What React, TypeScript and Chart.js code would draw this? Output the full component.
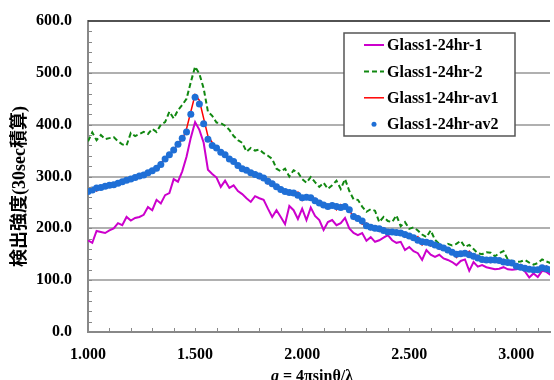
import React, { useEffect, useRef } from 'react';
import { Chart, registerables } from 'chart.js';

Chart.register(...registerables);

// q values (x axis)
const Q = [
  1.00, 1.02, 1.04, 1.06, 1.08, 1.10, 1.12, 1.14, 1.16, 1.18,
  1.20, 1.22, 1.24, 1.26, 1.28, 1.30, 1.32, 1.34, 1.36, 1.38,
  1.40, 1.42, 1.44, 1.46, 1.48, 1.50, 1.52, 1.54, 1.56, 1.58,
  1.60, 1.62, 1.64, 1.66, 1.68, 1.70, 1.72, 1.74, 1.76, 1.78,
  1.80, 1.82, 1.84, 1.86, 1.88, 1.90, 1.92, 1.94, 1.96, 1.98,
  2.00, 2.02, 2.04, 2.06, 2.08, 2.10, 2.12, 2.14, 2.16, 2.18,
  2.20, 2.22, 2.24, 2.26, 2.28, 2.30, 2.32, 2.34, 2.36, 2.38,
  2.40, 2.42, 2.44, 2.46, 2.48, 2.50, 2.52, 2.54, 2.56, 2.58,
  2.60, 2.62, 2.64, 2.66, 2.68, 2.70, 2.72, 2.74, 2.76, 2.78,
  2.80, 2.82, 2.84, 2.86, 2.88, 2.90, 2.92, 2.94, 2.96, 2.98,
  3.00, 3.02, 3.04, 3.06, 3.08, 3.10, 3.12, 3.14, 3.16,
];

const GLASS1_24HR_1 = [
  177, 172, 195, 193, 191, 196, 200, 210, 206, 222,
  215, 220, 222, 226, 241, 235, 255, 248, 264, 268,
  295, 290, 310, 338, 375, 405, 390, 365, 313, 305,
  298, 280, 292, 278, 283, 272, 266, 258, 251, 262,
  258, 255, 238, 222, 235, 222, 208, 243, 235, 218,
  238, 216, 240, 224, 216, 197, 212, 216, 206, 210,
  220, 200, 191, 187, 191, 176, 183, 174, 177, 182,
  187, 177, 172, 174, 158, 164, 156, 152, 139, 158,
  149, 145, 149, 142, 139, 135, 129, 137, 140, 118,
  135, 126, 129, 125, 123, 121, 122, 125, 121, 120,
  121, 123, 117, 105, 113, 106, 118, 116, 110,
];

const GLASS1_24HR_2 = [
  368, 385, 370, 380, 372, 374, 376, 368, 362, 360,
  384, 378, 382, 386, 382, 392, 386, 400, 405, 425,
  412, 428, 438, 450, 482, 512, 498, 470, 425, 417,
  404, 403, 398, 390, 378, 370, 365, 348, 355, 350,
  352, 345, 340, 334, 315, 310, 315, 300, 312, 308,
  295, 288, 299, 289, 280, 288, 276, 283, 292, 276,
  295, 272, 256, 255, 242, 232, 237, 234, 212, 222,
  214, 212, 225, 204, 212, 199, 202, 196, 188, 183,
  196, 178, 170, 164, 170, 167, 170, 176, 164, 168,
  160, 152, 150, 154, 153, 146, 152, 156, 140, 137,
  135, 136, 139, 134, 130, 133, 140, 136, 133,
];

const GLASS1_24HR_AV1 = [
  266, 278, 272, 281, 278, 286, 282, 289, 287, 296,
  292, 300, 298, 306, 304, 314, 312, 327, 332, 345,
  348, 366, 370, 392, 425, 458, 447, 412, 378, 366,
  352, 350, 338, 338, 326, 324, 312, 316, 304, 308,
  296, 300, 286, 290, 277, 279, 268, 272, 264, 270,
  254, 264, 256, 258, 246, 246, 238, 248, 236, 246,
  240, 238, 218, 224, 208, 210, 198, 204, 194, 201,
  188, 196, 188, 194, 183, 189, 178, 184, 168, 177,
  166, 172, 160, 166, 154, 158, 144, 154, 148, 156,
  142, 148, 136, 143, 134, 142, 134, 140, 130, 136,
  123, 130, 119, 126, 116, 124, 119, 127, 116,
];

const GLASS1_24HR_AV2 = [
  271, 274, 278, 279, 281, 283, 284, 287, 290, 293,
  295, 298, 301, 303, 307, 311, 316, 323, 334, 342,
  351, 362, 374, 386, 420, 453, 440, 402, 372, 360,
  355, 347, 342, 334, 329, 321, 315, 312, 307, 304,
  301, 297, 291, 286, 280, 275, 271, 269, 268, 264,
  259, 260, 259, 253, 249, 245, 242, 244, 242, 240,
  242, 236, 223, 219, 214, 205, 202, 200, 199, 196,
  193, 193, 192, 191, 188, 185, 182, 177, 174, 173,
  171, 168, 165, 162, 158, 154, 150, 151, 152, 149,
  146, 143, 140, 139, 139, 139, 138, 135, 134, 133,
  127, 125, 123, 121, 120, 120, 124, 122, 120,
];

const SERIES_LABELS = ['Glass1-24hr-1', 'Glass1-24hr-2', 'Glass1-24hr-av1', 'Glass1-24hr-av2'];
const X_MAJOR_TICKS = [1.0, 1.5, 2.0, 2.5, 3.0];
const X_MIN = 1.0;
const X_MAX = 3.157;
const X_MINOR_STEP = 0.1;
const Y_MIN = 0;
const Y_MAX = 600;
const Y_STEP = 100;
const Y_MINOR_STEP = 20;
const Y_TITLE = '検出強度(30sec積算)';
const X_TITLE_VAR = 'q';
const X_TITLE_REST = ' = 4πsinθ/λ';

const SERIF = "'Liberation Serif', 'Times New Roman', serif";
const JP_FONT = "'Liberation Serif', 'Noto Sans CJK JP', serif";

const COLORS = ['#CC00CC', '#118811', '#FF0000', '#1F6FD6'];

const toPoints = (vals: number[]) => vals.map((v, i) => ({ x: Q[i], y: v }));

const decorPlugin = {
  id: 'decor',
  afterDraw(chart: any) {
    const { ctx, chartArea: a, scales } = chart;
    const xs = scales.x;
    const ys = scales.y;
    ctx.save();
    // minor ticks (inward)
    ctx.strokeStyle = '#888888';
    ctx.lineWidth = 1;
    ctx.beginPath();
    for (let v = X_MIN + X_MINOR_STEP; v < X_MAX; v += X_MINOR_STEP) {
      const px = Math.round(xs.getPixelForValue(v)) + 0.5;
      ctx.moveTo(px, a.bottom);
      ctx.lineTo(px, a.bottom - 4);
    }
    for (let v = Y_MIN + Y_MINOR_STEP; v < Y_MAX; v += Y_MINOR_STEP) {
      const py = Math.round(ys.getPixelForValue(v)) + 0.5;
      ctx.moveTo(a.left, py);
      ctx.lineTo(a.left + 4, py);
    }
    ctx.stroke();

    // top border
    ctx.strokeStyle = '#333333';
    ctx.lineWidth = 1.5;
    ctx.beginPath();
    ctx.moveTo(a.left, a.top);
    ctx.lineTo(a.right, a.top);
    ctx.stroke();

    // legend box
    const lx = a.right - 206;
    const ly = a.top + 12;
    const lw = 171;
    const lh = 103;
    ctx.fillStyle = '#FFFFFF';
    ctx.fillRect(lx, ly, lw, lh);
    ctx.strokeStyle = '#555555';
    ctx.lineWidth = 1.5;
    ctx.strokeRect(lx, ly, lw, lh);
    ctx.font = `bold 16px ${SERIF}`;
    ctx.textBaseline = 'middle';
    ctx.textAlign = 'left';
    const ds = chart.data.datasets;
    for (let i = 0; i < ds.length; i++) {
      const cy = ly + 12 + i * 26.4;
      const d = ds[i];
      if (d.showLine === false) {
        ctx.fillStyle = d.pointBackgroundColor;
        ctx.beginPath();
        ctx.arc(lx + 30, cy, 2.5, 0, Math.PI * 2);
        ctx.fill();
      } else {
        ctx.strokeStyle = d.borderColor;
        ctx.lineWidth = d.borderWidth;
        ctx.setLineDash(d.borderDash || []);
        ctx.beginPath();
        ctx.moveTo(lx + 20, cy);
        ctx.lineTo(lx + 40, cy);
        ctx.stroke();
        ctx.setLineDash([]);
      }
      ctx.fillStyle = '#000000';
      ctx.fillText(d.label, lx + 43, cy + 1);
    }

    // x axis title with italic q
    ctx.fillStyle = '#000000';
    ctx.textBaseline = 'alphabetic';
    const italic = `italic bold 16px ${SERIF}`;
    const bold = `bold 16px ${SERIF}`;
    ctx.font = italic;
    const w1 = ctx.measureText(X_TITLE_VAR).width;
    ctx.font = bold;
    const w2 = ctx.measureText(X_TITLE_REST).width;
    const cx = (a.left + a.right) / 2 - 7;
    const sx = cx - (w1 + w2) / 2;
    const by = a.bottom + 49;
    ctx.font = italic;
    ctx.fillText(X_TITLE_VAR, sx, by);
    ctx.font = bold;
    ctx.fillText(X_TITLE_REST, sx + w1, by);

    // y axis title (rotated)
    ctx.save();
    ctx.translate(20.5, (a.top + a.bottom) / 2 + 10);
    ctx.rotate(-Math.PI / 2);
    ctx.font = `bold 18px ${JP_FONT}`;
    ctx.textAlign = 'center';
    ctx.textBaseline = 'middle';
    ctx.fillText(Y_TITLE, 0, 0);
    ctx.restore();

    ctx.restore();
  },
};

export default function App() {
  const ref = useRef<HTMLCanvasElement | null>(null);

  useEffect(() => {
    if (!ref.current) return;
    const chart = new Chart(ref.current, {
      type: 'line',
      data: {
        datasets: [
          {
            label: SERIES_LABELS[0],
            data: toPoints(GLASS1_24HR_1),
            borderColor: COLORS[0],
            borderWidth: 2,
            pointRadius: 0,
            order: 3,
          },
          {
            label: SERIES_LABELS[1],
            data: toPoints(GLASS1_24HR_2),
            borderColor: COLORS[1],
            borderWidth: 2,
            borderDash: [5, 3],
            pointRadius: 0,
            order: 2,
          },
          {
            label: SERIES_LABELS[2],
            data: toPoints(GLASS1_24HR_AV1),
            borderColor: COLORS[2],
            borderWidth: 1.5,
            pointRadius: 0,
            order: 1,
          },
          {
            label: SERIES_LABELS[3],
            data: toPoints(GLASS1_24HR_AV2),
            showLine: false,
            borderColor: COLORS[3],
            pointBackgroundColor: COLORS[3],
            pointBorderWidth: 0,
            pointRadius: 3.5,
            order: 0,
          },
        ] as any,
      },
      options: {
        responsive: false,
        animation: false,
        devicePixelRatio: 1,
        layout: { padding: { top: 21, right: 0, left: 0, bottom: 0 } },
        plugins: {
          legend: { display: false },
          tooltip: { enabled: false },
        },
        scales: {
          x: {
            type: 'linear',
            min: X_MIN,
            max: X_MAX,
            afterBuildTicks: (s: any) => {
              s.ticks = X_MAJOR_TICKS.map((v) => ({ value: v }));
            },
            afterFit: (s: any) => {
              s.height = 48;
              s.paddingLeft = 0;
              s.paddingRight = 0;
            },
            grid: { display: false },
            border: { display: true, color: '#888888', width: 2 },
            ticks: {
              padding: 5,
              maxRotation: 0,
              autoSkip: false,
              color: '#000000',
              font: { family: SERIF, size: 16, weight: 'bold' },
              callback: (v: any) => Number(v).toFixed(3),
            },
          },
          y: {
            type: 'linear',
            min: Y_MIN,
            max: Y_MAX,
            afterFit: (s: any) => {
              s.width = 88;
              s.paddingTop = 0;
              s.paddingBottom = 0;
            },
            grid: { color: '#B0B0B0', lineWidth: 2, drawTicks: false },
            border: { display: true, color: '#888888', width: 2 },
            ticks: {
              stepSize: Y_STEP,
              padding: 16,
              color: '#000000',
              font: { family: SERIF, size: 16, weight: 'bold' },
              callback: (v: any) => Number(v).toFixed(1),
            },
          },
        },
      } as any,
      plugins: [decorPlugin],
    });
    return () => chart.destroy();
  }, []);

  return (
    <canvas
      ref={ref}
      width={554}
      height={380}
      style={{ position: 'absolute', left: 0, top: 0, width: 554, height: 380 }}
    />
  );
}
